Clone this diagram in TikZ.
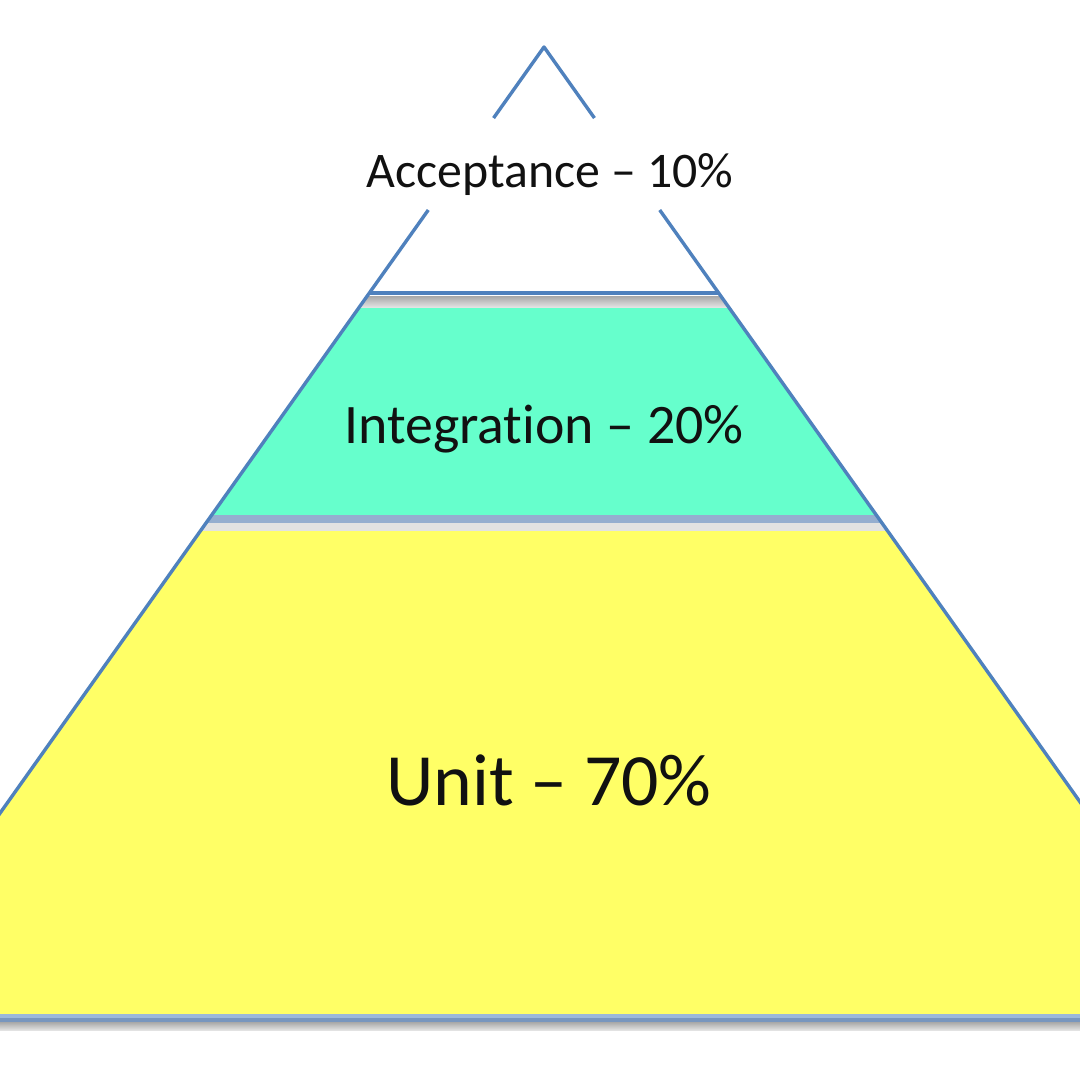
\documentclass[tikz,border=0pt]{standalone}
\usepackage{fontspec}
\setmainfont{Carlito}[Ligatures=NoCommon]
\usetikzlibrary{calc}
\definecolor{pblue}{HTML}{4F81BD}
\definecolor{pgreen}{HTML}{66FFCC}
\definecolor{pyellow}{HTML}{FFFF66}
\definecolor{plblue}{HTML}{95AECF}
\definecolor{pbaseA}{HTML}{9BB8DA}
\definecolor{pbaseB}{HTML}{7896BE}
\definecolor{pshadowA}{HTML}{A8A8A8}
\definecolor{pshadowB}{HTML}{E2E2E2}
\definecolor{ptext}{HTML}{111111}
\begin{document}
\begin{tikzpicture}[x=1bp,y=-1bp,
  edgeline/.style={draw=pblue,line width=3.4bp},
  tierlabel/.style={anchor=base,inner sep=0pt,text=ptext}]
\useasboundingbox (0,0) rectangle (1080,1080);
\clip (0,0) rectangle (1080,1080);
\fill[white] (0,0) rectangle (1080,1080);
\coordinate (apex) at (544,47);
\coordinate (bl) at (-144,1016);
\coordinate (br) at (1232,1016);
% tiers
\begin{scope}
  \clip (apex) -- (bl) -- (br) -- cycle;
  \fill[pgreen] (0,296) rectangle (1080,515);
  \shade[top color=pshadowA,bottom color=pshadowB] (0,296) rectangle (1080,307);
  \fill[pyellow] (0,515) rectangle (1080,1014);
  \fill[plblue] (0,515) rectangle (1080,523);
  \fill[pshadowB] (0,523) rectangle (1080,531);
\end{scope}
% base line with shadow
\fill[pbaseA] (0,1014) rectangle (1080,1018);
\fill[pbaseB] (0,1018) rectangle (1080,1022);
\shade[top color=pshadowA,bottom color=pshadowB] (0,1022) rectangle (1080,1030);
% top line of the integration tier
\coordinate (gl) at ($(apex)!0.2539!(bl)$);
\coordinate (gr) at ($(apex)!0.2539!(br)$);
\draw[pblue,line width=4.5bp] (gl) -- (gr);
% sides, interrupted by the top label
\coordinate (la) at ($(apex)!0.0733!(bl)$);
\coordinate (lb) at ($(apex)!0.1682!(bl)$);
\coordinate (ra) at ($(apex)!0.0733!(br)$);
\coordinate (rb) at ($(apex)!0.1682!(br)$);
\draw[edgeline,line join=round] (la) -- (apex) -- (ra);
\draw[edgeline] (lb) -- (bl);
\draw[edgeline] (rb) -- (br);
% labels
\node[tierlabel,font=\fontsize{50}{60}\selectfont] (acc) at (550,187) {Acceptance – 10\%};
\node[tierlabel,font=\fontsize{56}{66}\selectfont] (integ) at (544,443) {Integration – 20\%};
\node[tierlabel,font=\fontsize{74}{88}\selectfont] (unit) at (549,805) {Unit – 70\%};
\end{tikzpicture}
\end{document}
